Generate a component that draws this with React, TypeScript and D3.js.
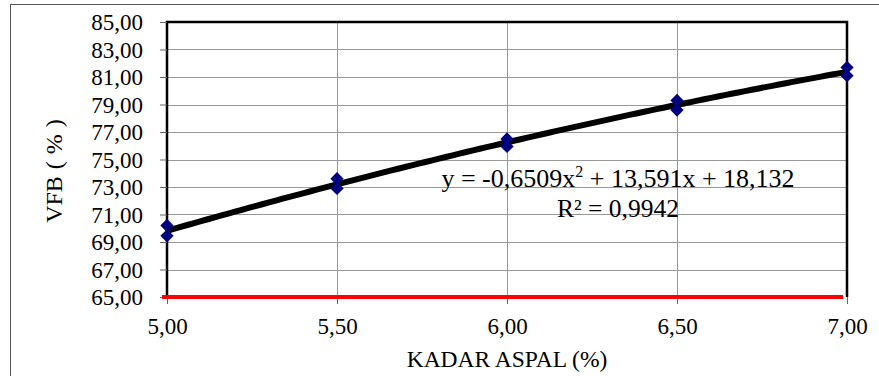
import React, { useEffect, useRef } from 'react';
import * as d3 from 'd3';

// kadar aspal (%) and measured VFB (%), two specimens per content
const kadarAspal = [5.0, 5.0, 5.5, 5.5, 6.0, 6.0, 6.5, 6.5, 7.0, 7.0];
const vfb = [70.2, 69.45, 73.6, 72.9, 76.5, 75.95, 79.3, 78.6, 81.7, 81.1];
const xTicks = [5.0, 5.5, 6.0, 6.5, 7.0];
const yTicks = [65, 67, 69, 71, 73, 75, 77, 79, 81, 83, 85];
// polynomial trendline coefficients (a x^2 + b x + c)
const trendCoef = [-0.6509, 13.591, 18.132];
const specMin = 65;

const W = 879;
const H = 376;
const margin = { left: 167, right: 32, top: 22, bottom: 79 };

const fmt = (v: number) => v.toFixed(2).replace('.', ',');
const comma = (v: number) => String(v).replace('.', ',');

export default function App() {
  const ref = useRef<SVGSVGElement>(null);

  useEffect(() => {
    const svg = d3.select(ref.current);
    svg.selectAll('*').remove();

    const x = d3.scaleLinear().domain([5, 7]).range([margin.left, W - margin.right]);
    const y = d3.scaleLinear().domain([65, 85]).range([H - margin.bottom, margin.top]);
    const font = '"Liberation Serif", "Times New Roman", serif';

    // outer chart frame
    svg.append('rect')
      .attr('x', 10.5).attr('y', 4.5)
      .attr('width', W).attr('height', H)
      .attr('fill', 'none').attr('stroke', '#555').attr('stroke-width', 1);

    // grid
    svg.append('g').selectAll('line')
      .data(yTicks.slice(1, -1))
      .enter().append('line')
      .attr('x1', x(5)).attr('x2', x(7))
      .attr('y1', d => Math.round(y(d)) + 0.5).attr('y2', d => Math.round(y(d)) + 0.5)
      .attr('stroke', '#999').attr('stroke-width', 1);
    svg.append('g').selectAll('line')
      .data(xTicks.slice(1, -1))
      .enter().append('line')
      .attr('y1', y(85)).attr('y2', y(65))
      .attr('x1', d => Math.round(x(d)) + 0.5).attr('x2', d => Math.round(x(d)) + 0.5)
      .attr('stroke', '#999').attr('stroke-width', 1);

    // plot border (top, left, right)
    svg.append('path')
      .attr('d', `M${x(5)},${y(65)}V${y(85)}H${x(7)}V${y(65)}`)
      .attr('fill', 'none').attr('stroke', '#000').attr('stroke-width', 2.5);

    // y axis
    const yAxis = d3.axisLeft(y).tickValues(yTicks).tickSize(7).tickFormat(d => fmt(+d));
    const gy = svg.append('g').attr('transform', `translate(${x(5)},0)`).call(yAxis);
    gy.style('font-family', font).style('font-size', '23px');
    gy.select('.domain').remove();
    gy.selectAll('line').attr('stroke', '#666');
    gy.selectAll('text')
      .style('font-family', font).style('font-size', '23px').attr('fill', '#000')
      .attr('x', -24).attr('dy', '0.34em');

    // x axis
    const xAxis = d3.axisBottom(x).tickValues(xTicks).tickSize(7).tickFormat(d => fmt(+d));
    const gx = svg.append('g').attr('transform', `translate(0,${y(65)})`).call(xAxis);
    gx.style('font-family', font).style('font-size', '23px');
    gx.select('.domain').remove();
    gx.selectAll('line').attr('stroke', '#666');
    gx.selectAll('text')
      .style('font-family', font).style('font-size', '23px').attr('fill', '#000')
      .attr('y', 21).attr('dy', '0.71em');

    // red line at minimum
    svg.append('line')
      .attr('x1', x(5) - 5).attr('x2', x(7) - 4)
      .attr('y1', y(specMin)).attr('y2', y(specMin))
      .attr('stroke', '#ff0000').attr('stroke-width', 4);

    // trendline
    const trendX = d3.range(5, 7.0001, 0.02);
    const line = d3.line<number>()
      .x(d => x(d))
      .y(d => y(trendCoef[0] * d * d + trendCoef[1] * d + trendCoef[2]));
    svg.append('path')
      .attr('d', line(trendX))
      .attr('fill', 'none').attr('stroke', '#000').attr('stroke-width', 6);

    // points (square diamonds)
    const sym = d3.symbol().type(d3.symbolSquare).size(88);
    svg.append('g').selectAll('path')
      .data(kadarAspal.map((k, i) => [k, vfb[i]]))
      .enter().append('path')
      .attr('d', sym)
      .attr('transform', d => `translate(${x(d[0])},${y(d[1])}) rotate(45)`)
      .attr('fill', '#000080');

    // equation
    const eq = svg.append('text')
      .attr('x', 618).attr('y', 187)
      .attr('text-anchor', 'middle')
      .style('font-family', font).style('font-size', '26px').attr('fill', '#000');
    eq.append('tspan').text(`y = ${comma(trendCoef[0])}x`);
    eq.append('tspan').style('font-size', '16px').attr('dy', -10).text('2');
    eq.append('tspan').attr('dy', 10)
      .text(` + ${comma(trendCoef[1])}x + ${comma(trendCoef[2])}`);
    svg.append('text')
      .attr('x', 618).attr('y', 217)
      .attr('text-anchor', 'middle')
      .style('font-family', font).style('font-size', '25.5px').attr('fill', '#000')
      .text('R² = 0,9942');

    // axis titles
    svg.append('text')
      .attr('transform', `translate(62,171) rotate(-90)`)
      .attr('text-anchor', 'middle')
      .style('font-family', font).style('font-size', '24px').attr('fill', '#000')
      .attr('word-spacing', 1)
      .text('VFB ( % )');
    svg.append('text')
      .attr('x', 507).attr('y', 367)
      .attr('text-anchor', 'middle')
      .style('font-family', font).style('font-size', '23.5px').attr('fill', '#000')
      .text('KADAR ASPAL (%)');
  }, []);

  return (
    <svg ref={ref} width={W} height={H}
      style={{ position: 'absolute', left: 0, top: 0, background: '#fff' }} />
  );
}
